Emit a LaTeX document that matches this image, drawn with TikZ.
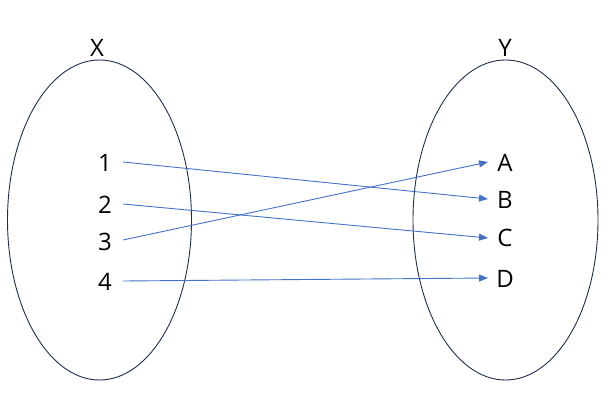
\documentclass[tikz,border=0pt]{standalone}
\usepackage{fontspec}
\setmainfont{Open Sans}
\usetikzlibrary{arrows.meta}
\definecolor{edgeblue}{HTML}{4472C4}
\definecolor{ringcol}{HTML}{1F2D4D}
\begin{document}
\begin{tikzpicture}[x=1pt,y=-1pt,
  setring/.style={draw=ringcol,line width=0.9pt},
  lab/.style={font=\fontsize{24}{28}\selectfont,inner sep=0pt,anchor=center},
  conn/.style={draw=edgeblue,line width=0.9pt,-{Triangle[length=9pt,width=7pt]}}]
\useasboundingbox (0,0) rectangle (610,404);
\draw[setring] (99.5,220) ellipse [x radius=92, y radius=160];
\draw[setring] (505.5,220) ellipse [x radius=92.5, y radius=160];
\node[lab] (X) at (97,48) {X};
\node[lab] (Y) at (505,48) {Y};
\node[lab] (n1) at (105,163) {1};
\node[lab] (n2) at (105,205) {2};
\node[lab] (n3) at (105,242) {3};
\node[lab] (n4) at (105,282) {4};
\node[lab] (A) at (505,163) {A};
\node[lab] (B) at (505,200) {B};
\node[lab] (C) at (505,238) {C};
\node[lab] (D) at (505,279) {D};
\coordinate (s1) at (123,162);
\coordinate (s2) at (123,204);
\coordinate (s3) at (123,240);
\coordinate (s4) at (123,281);
\coordinate (tA) at (488,162);
\coordinate (tB) at (488,199);
\coordinate (tC) at (488,238);
\coordinate (tD) at (488,278);
\draw[conn] (s1) -- (tB);
\draw[conn] (s2) -- (tC);
\draw[conn] (s3) -- (tA);
\draw[conn] (s4) -- (tD);
\end{tikzpicture}
\end{document}
